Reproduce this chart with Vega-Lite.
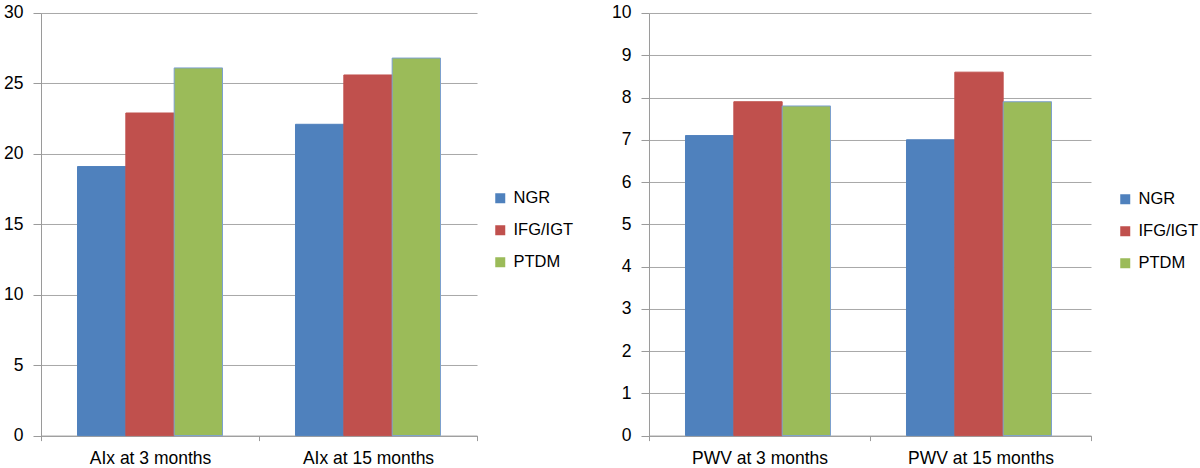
{
  "$schema": "https://vega.github.io/schema/vega-lite/v6.json",
  "padding": {"left": 3, "top": 4, "right": 0, "bottom": 0},
  "background": "white",
  "config": {
    "view": {"stroke": null},
    "font": "Liberation Sans",
    "axis": {
      "labelFont": "Liberation Sans",
      "labelFontSize": 17.5,
      "labelColor": "#000000",
      "domainColor": "#9a9a9a",
      "tickColor": "#9a9a9a",
      "gridColor": "#a8a8a8",
      "domainWidth": 1,
      "tickWidth": 1,
      "gridWidth": 1,
      "title": null
    },
    "axisX": {"tickBand": "extent", "tickSize": 5, "labelPadding": 9, "labelAngle": 0, "grid": false, "labelDx": 5},
    "axisY": {"tickSize": 8, "labelPadding": 10, "grid": true},
    "legend": {
      "labelFont": "Liberation Sans",
      "labelFontSize": 16.5,
      "labelColor": "#000000",
      "symbolType": "square",
      "symbolSize": 100,
      "symbolStrokeWidth": 1,
      "labelOffset": 5,
      "rowPadding": 15,
      "padding": 0,
      "title": null
    }
  },
  "datasets": {
    "aix": [
      {"time": "AIx at 3 months", "group": "NGR", "value": 19.1},
      {"time": "AIx at 3 months", "group": "IFG/IGT", "value": 22.9},
      {"time": "AIx at 3 months", "group": "PTDM", "value": 26.1},
      {"time": "AIx at 15 months", "group": "NGR", "value": 22.1},
      {"time": "AIx at 15 months", "group": "IFG/IGT", "value": 25.6},
      {"time": "AIx at 15 months", "group": "PTDM", "value": 26.8}
    ],
    "pwv": [
      {"time": "PWV at 3 months", "group": "NGR", "value": 7.1},
      {"time": "PWV at 3 months", "group": "IFG/IGT", "value": 7.9},
      {"time": "PWV at 3 months", "group": "PTDM", "value": 7.8},
      {"time": "PWV at 15 months", "group": "NGR", "value": 7.0},
      {"time": "PWV at 15 months", "group": "IFG/IGT", "value": 8.6},
      {"time": "PWV at 15 months", "group": "PTDM", "value": 7.9}
    ]
  },
  "spacing": 37,
  "resolve": {"scale": {"color": "independent", "y": "independent"}, "legend": {"color": "independent"}},
  "hconcat": [
    {
      "width": 436,
      "height": 422.6,
      "data": {"name": "aix"},
      "mark": {"type": "bar", "strokeWidth": 1},
      "encoding": {
        "x": {"field": "time", "type": "nominal", "sort": ["AIx at 3 months", "AIx at 15 months"], "scale": {"paddingInner": 0, "paddingOuter": 0}},
        "xOffset": {"field": "group", "type": "nominal", "sort": ["NGR", "IFG/IGT", "PTDM"], "scale": {"paddingInner": 0, "paddingOuter": 0.755}},
        "y": {"field": "value", "type": "quantitative", "scale": {"domain": [0, 30], "nice": false}, "axis": {"values": [0, 5, 10, 15, 20, 25, 30]}},
        "color": {
          "field": "group", "type": "nominal", "sort": ["NGR", "IFG/IGT", "PTDM"],
          "scale": {"domain": ["NGR", "IFG/IGT", "PTDM"], "range": ["#4F81BD", "#C0504D", "#9BBB59"]},
          "legend": {"orient": "none", "legendX": 451, "legendY": 177}
        },
        "stroke": {
          "field": "group", "type": "nominal",
          "scale": {"domain": ["NGR", "IFG/IGT", "PTDM"], "range": ["#4F81BD", "#C0504D", "#7BA0CD"]},
          "legend": null
        }
      }
    },
    {
      "width": 442,
      "height": 422.6,
      "data": {"name": "pwv"},
      "mark": {"type": "bar", "strokeWidth": 1},
      "encoding": {
        "x": {"field": "time", "type": "nominal", "sort": ["PWV at 3 months", "PWV at 15 months"], "scale": {"paddingInner": 0, "paddingOuter": 0}, "axis": {"labelDx": 6}},
        "xOffset": {"field": "group", "type": "nominal", "sort": ["NGR", "IFG/IGT", "PTDM"], "scale": {"paddingInner": 0, "paddingOuter": 0.755}},
        "y": {"field": "value", "type": "quantitative", "scale": {"domain": [0, 10], "nice": false}, "axis": {"values": [0, 1, 2, 3, 4, 5, 6, 7, 8, 9, 10]}},
        "color": {
          "field": "group", "type": "nominal", "sort": ["NGR", "IFG/IGT", "PTDM"],
          "scale": {"domain": ["NGR", "IFG/IGT", "PTDM"], "range": ["#4F81BD", "#C0504D", "#9BBB59"]},
          "legend": {"orient": "none", "legendX": 468, "legendY": 178}
        },
        "stroke": {
          "field": "group", "type": "nominal",
          "scale": {"domain": ["NGR", "IFG/IGT", "PTDM"], "range": ["#4F81BD", "#C0504D", "#7BA0CD"]},
          "legend": null
        }
      }
    }
  ]
}
